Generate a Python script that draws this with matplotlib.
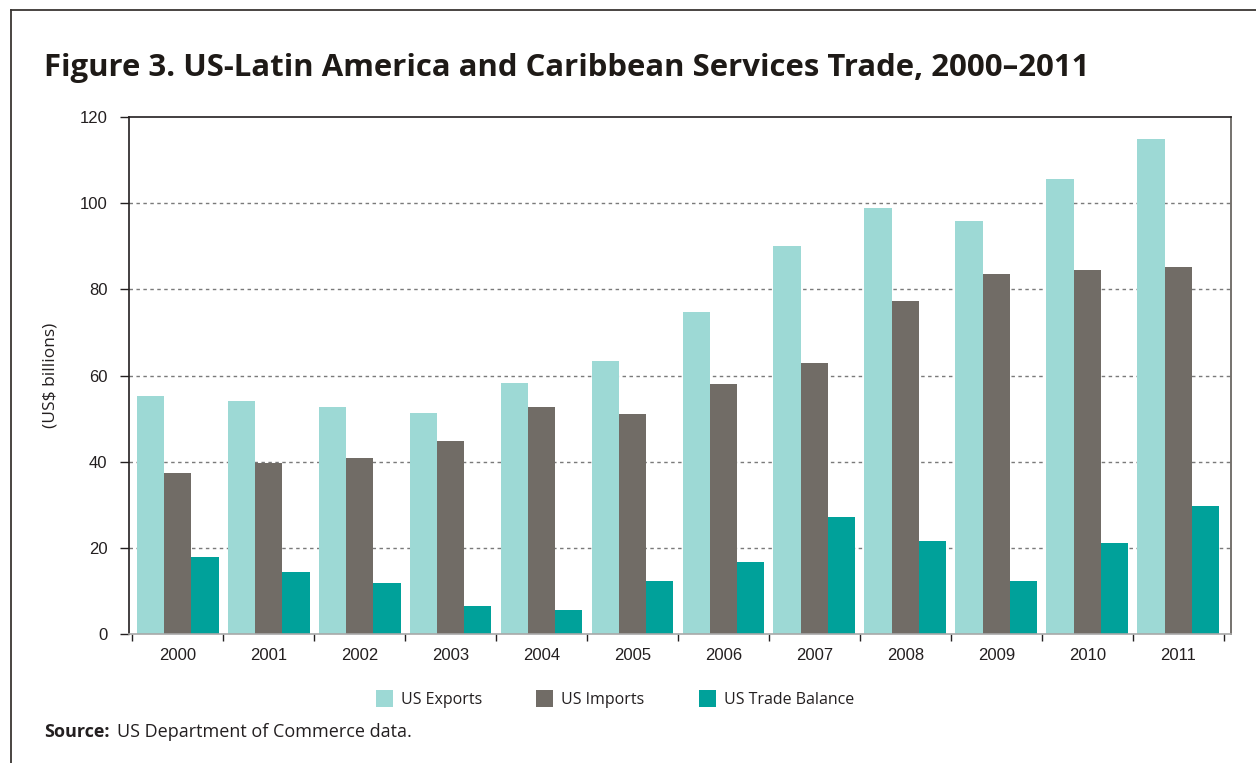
import matplotlib
matplotlib.use("Agg")
import matplotlib.pyplot as plt
import numpy as np
from matplotlib.lines import Line2D

years = ["2000", "2001", "2002", "2003", "2004", "2005",
         "2006", "2007", "2008", "2009", "2010", "2011"]
exports = [55.2, 54.1, 52.7, 51.3, 58.3, 63.4, 74.7, 90.0, 98.8, 95.8, 105.6, 114.9]
imports = [37.4, 39.6, 40.9, 44.8, 52.7, 51.1, 58.0, 62.9, 77.3, 83.5, 84.5, 85.2]
balance = [17.8, 14.5, 11.8, 6.5, 5.6, 12.3, 16.7, 27.1, 21.5, 12.3, 21.1, 29.7]

series_names = ["US Exports", "US Imports", "US Trade Balance"]
colors = ["#9DD9D5", "#716C66", "#00A19A"]

title = "Figure 3. US-Latin America and Caribbean Services Trade, 2000\u20132011"
ylabel = "(US$ billions)"
source_head = "Source:"
source_body = "US Department of Commerce data."

TEXT = "#231F20"
FONT = "Open Sans"

W, H = 1256, 763
fig = plt.figure(figsize=(W / 100, H / 100), dpi=100)
ax = fig.add_axes([129 / W, 1 - 634 / H, (1231 - 129) / W, (634 - 117) / H])

x = np.arange(len(years))
bw = 0.3
for i, (vals, name, col) in enumerate(zip([exports, imports, balance], series_names, colors)):
    ax.bar(x + (i - 1) * bw, vals, width=bw, color=col, label=name, zorder=2, linewidth=0)

ax.set_ylim(0, 120)
ax.set_xlim(-0.535, 11.58)
ax.set_yticks(np.arange(0, 121, 20))
ax.tick_params(axis="y", direction="out", length=6.5, width=1, color=TEXT,
               labelsize=12, pad=9, labelcolor=TEXT)
# Category labels sit between boundary tick marks
ax.set_xticks(x)
ax.set_xticklabels(years)
ax.tick_params(axis="x", which="major", length=0, pad=10, labelsize=12, labelcolor=TEXT)
ax.set_xticks(np.arange(-0.5, 12, 1), minor=True)
ax.tick_params(axis="x", which="minor", direction="out", length=5, width=1, color=TEXT)

for tl in ax.get_xticklabels() + ax.get_yticklabels():
    tl.set_fontfamily("Liberation Sans")

for yv in range(20, 120, 20):
    ax.axhline(yv, color="#7A7A7A", linestyle=(0, (2.5, 2.5)), linewidth=1, zorder=1)

ax.spines["top"].set_color(TEXT)
ax.spines["left"].set_color(TEXT)
ax.spines["right"].set_color("#5E5A55")
ax.spines["bottom"].set_color("#A8A8A8")
for s in ax.spines.values():
    s.set_linewidth(1.2)

ax.set_ylabel(ylabel, fontsize=12.5, family=FONT, color=TEXT, labelpad=15)

renderer = fig.canvas.get_renderer()

# Title: heavy sans, sized so it spans the panel width
ttl = fig.text(44 / W, 1 - 76 / H, title, fontsize=19, fontweight="bold", family=FONT,
               color="#1E1A17", va="baseline", ha="left")
tw = ttl.get_window_extent(renderer).width
ttl.set_fontsize(19 * 1043 / tw)
ttl.set_fontstretch("condensed")

leg = fig.legend(loc="center", bbox_to_anchor=(615 / W, 1 - 699 / H), ncol=3, frameon=False,
                 handlelength=1.05, handleheight=1.25, handletextpad=0.5, columnspacing=3.4,
                 prop={"family": FONT, "size": 11.5})
for t in leg.get_texts():
    t.set_color(TEXT)

head = fig.text(44 / W, 1 - 737 / H, source_head, fontsize=13, fontweight="bold", family=FONT,
                color=TEXT, va="baseline", ha="left")
bb = head.get_window_extent(renderer)
fig.text((bb.x1 + 8) / W, 1 - 737 / H, source_body, fontsize=13, family=FONT,
         color=TEXT, va="baseline", ha="left")

# Frame around the figure panel
fig.add_artist(Line2D([11 / W, 1], [1 - 9.5 / H, 1 - 9.5 / H], transform=fig.transFigure,
                      color="#3A3633", linewidth=1.3))
fig.add_artist(Line2D([11 / W, 11 / W], [0, 1 - 9.5 / H], transform=fig.transFigure,
                      color="#3A3633", linewidth=1.3))

fig.savefig("out.png", dpi=100)
